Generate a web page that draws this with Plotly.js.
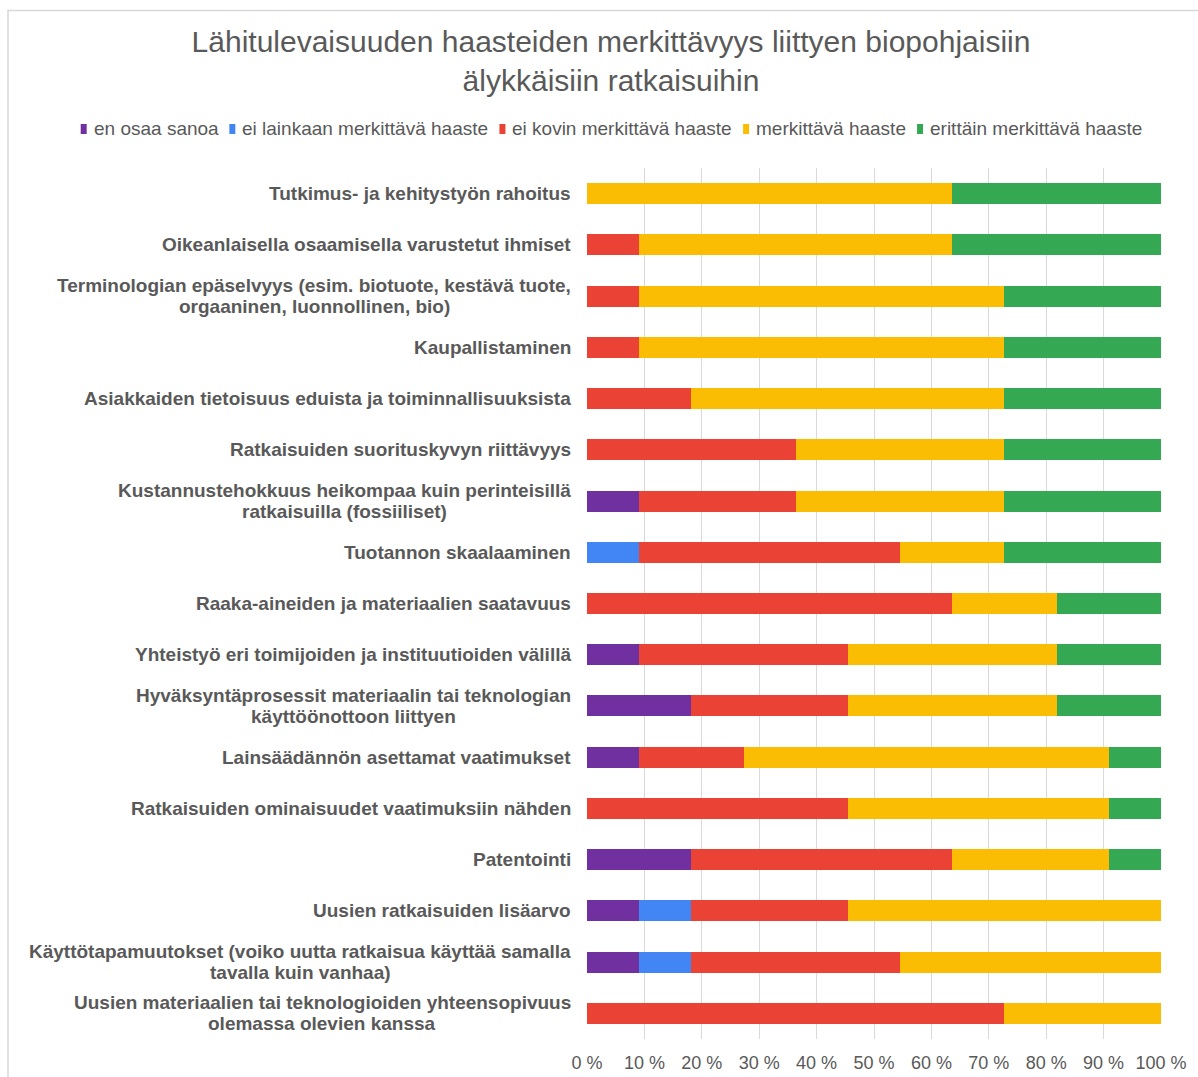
<!DOCTYPE html>
<html>
<head>
<meta charset="utf-8">
<script src="https://cdn.plot.ly/plotly-3.0.1.min.js"></script>
<style>html,body{margin:0;padding:0;background:#fff;}#chart{width:1198px;height:1077px;}</style>
</head>
<body>
<div id="chart"></div>
<script>
const categories = [
  "Tutkimus- ja kehitystyön rahoitus",
  "Oikeanlaisella osaamisella varustetut ihmiset",
  "Terminologian epäselvyys (esim. biotuote, kestävä tuote,<br>orgaaninen, luonnollinen, bio)",
  "Kaupallistaminen",
  "Asiakkaiden tietoisuus eduista ja toiminnallisuuksista",
  "Ratkaisuiden suorituskyvyn riittävyys",
  "Kustannustehokkuus heikompaa kuin perinteisillä<br>ratkaisuilla (fossiiliset)",
  "Tuotannon skaalaaminen",
  "Raaka-aineiden ja materiaalien saatavuus",
  "Yhteistyö eri toimijoiden ja instituutioiden välillä",
  "Hyväksyntäprosessit materiaalin tai teknologian<br>käyttöönottoon liittyen",
  "Lainsäädännön asettamat vaatimukset",
  "Ratkaisuiden ominaisuudet vaatimuksiin nähden",
  "Patentointi",
  "Uusien ratkaisuiden lisäarvo",
  "Käyttötapamuutokset (voiko uutta ratkaisua käyttää samalla<br>tavalla kuin vanhaa)",
  "Uusien materiaalien tai teknologioiden yhteensopivuus<br>olemassa olevien kanssa"
];
const seriesNames = ["en osaa sanoa", "ei lainkaan merkittävä haaste", "ei kovin merkittävä haaste", "merkittävä haaste", "erittäin merkittävä haaste"];
const enOsaaSanoa = [0, 0, 0, 0, 0, 0, 9.1, 0, 0, 9.1, 18.2, 9.1, 0, 18.2, 9.1, 9.1, 0];
const eiLainkaan  = [0, 0, 0, 0, 0, 0, 0, 9.1, 0, 0, 0, 0, 0, 0, 9.1, 9.1, 0];
const eiKovin     = [0, 9.1, 9.1, 9.1, 18.2, 36.4, 27.3, 45.5, 63.6, 36.4, 27.3, 18.2, 45.5, 45.5, 27.3, 36.4, 72.7];
const merkittava  = [63.6, 54.5, 63.6, 63.6, 54.5, 36.4, 36.4, 18.2, 18.2, 36.4, 36.4, 63.6, 45.5, 27.3, 54.5, 45.5, 27.3];
const erittain    = [36.4, 36.4, 27.3, 27.3, 27.3, 27.3, 27.3, 27.3, 18.2, 18.2, 18.2, 9.1, 9.1, 9.1, 0, 0, 0];
const tickValues = [0, 10, 20, 30, 40, 50, 60, 70, 80, 90, 100];

const seriesValues = [enOsaaSanoa, eiLainkaan, eiKovin, merkittava, erittain];
const colors = ["#7030A0", "#4285F4", "#EA4335", "#FBBC04", "#34A853"];
const FONT = "Liberation Sans, Arial, sans-serif";

const W = 1198, H = 1077;
const M = { l: 587, r: 37, t: 168, b: 38 };
const PW = W - M.l - M.r, PH = H - M.t - M.b;
const px2x = px => (px - M.l) / PW;
const py2y = py => (H - M.b - py) / PH;
const ctx = document.createElement("canvas").getContext("2d");

const data = seriesValues.map((vals, i) => ({
  type: "bar",
  orientation: "h",
  name: seriesNames[i],
  y: categories,
  x: vals,
  marker: { color: colors[i], line: { width: 0 } },
  hoverinfo: "name+x",
  showlegend: false
}));

// category labels: block right-aligned next to the axis, lines centred within the block
const labelSize = 19, labelLine = 21, labelRight = 571;
ctx.font = "bold " + labelSize + "px 'Liberation Sans'";
const annotations = [];
categories.forEach(c => {
  const lines = c.split("<br>");
  const blockW = Math.max(...lines.map(l => ctx.measureText(l).width));
  lines.forEach((l, k) => {
    annotations.push({
      xref: "paper", yref: "y", x: px2x(labelRight - blockW / 2), y: c,
      xanchor: "center", yanchor: "middle",
      yshift: ((lines.length - 1) / 2 - k) * labelLine,
      showarrow: false, text: "<b>" + l + "</b>",
      font: { family: FONT, size: labelSize, color: "#595959" }
    });
  });
});

// single-row legend built from the series names
const legendFontSize = 19;
ctx.font = legendFontSize + "px 'Liberation Sans'";
const markW = 6, markH = 10, textOffset = 14, itemGap = 10;
const widths = seriesNames.map(n => ctx.measureText(n).width);
const total = widths.reduce((a, w) => a + textOffset + w, 0) + itemGap * (seriesNames.length - 1);
const legendCenter = 612, legendY = 128;
let cursor = legendCenter - total / 2;
const shapes = [];
seriesNames.forEach((n, i) => {
  shapes.push({
    type: "rect", xref: "paper", yref: "paper",
    x0: px2x(cursor), x1: px2x(cursor + markW),
    y0: py2y(legendY + markH / 2 + 1), y1: py2y(legendY - markH / 2 + 1),
    fillcolor: colors[i], line: { width: 0 }
  });
  annotations.push({
    xref: "paper", yref: "paper", x: px2x(cursor + textOffset - 3), y: py2y(legendY),
    xanchor: "left", yanchor: "middle", showarrow: false, text: n,
    font: { family: FONT, size: legendFontSize, color: "#595959" }
  });
  cursor += textOffset + widths[i] + itemGap;
});

// chart-area border
shapes.push({
  type: "rect", xref: "paper", yref: "paper",
  x0: px2x(8), x1: px2x(W + 30), y0: py2y(H + 30), y1: py2y(10.5),
  line: { color: "#D9D9D9", width: 1.5 }, fillcolor: "rgba(0,0,0,0)", layer: "below"
});

const layout = {
  width: W, height: H,
  paper_bgcolor: "#ffffff", plot_bgcolor: "#ffffff",
  font: { family: FONT, color: "#595959" },
  title: {
    text: "Lähitulevaisuuden haasteiden merkittävyys liittyen biopohjaisiin<br>älykkäisiin ratkaisuihin",
    font: { family: FONT, size: 30, color: "#595959" },
    x: 611 / W, xanchor: "center", xref: "container",
    y: 1 - 52 / H, yanchor: "middle", yref: "container"
  },
  barmode: "stack",
  barnorm: "percent",
  bargap: 0.59,
  margin: M,
  showlegend: false,
  xaxis: {
    range: [0, 100], tickvals: tickValues, ticktext: tickValues.map(v => v + " %"),
    showgrid: true, gridcolor: "#D9D9D9", gridwidth: 1,
    zeroline: false, showline: false, ticks: "",
    ticklabelstandoff: 11,
    tickfont: { family: FONT, size: 18, color: "#595959" },
    fixedrange: true
  },
  yaxis: {
    autorange: "reversed", showticklabels: false, showgrid: false,
    zeroline: false, showline: false, ticks: "", fixedrange: true
  },
  annotations: annotations,
  shapes: shapes
};

Plotly.newPlot("chart", data, layout, { displayModeBar: false, staticPlot: true });
</script>
</body>
</html>
